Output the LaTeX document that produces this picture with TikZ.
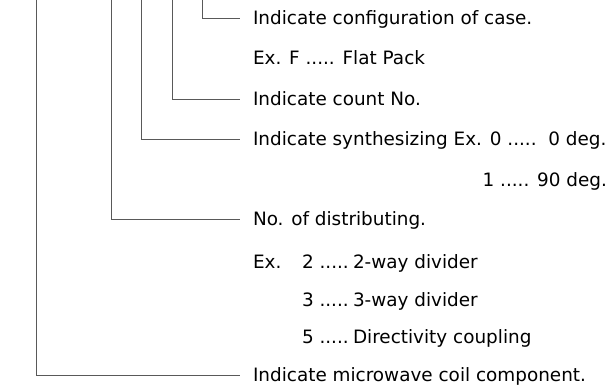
\documentclass[tikz,border=0pt]{standalone}
\usepackage{fontspec}
\setmainfont{DejaVu Sans}
\usetikzlibrary{positioning}
\tikzset{
  lbl/.style={anchor=west, inner sep=0pt, outer sep=0pt,
              font=\fontsize{18.4}{20}\selectfont, text height=13pt, text depth=0pt},
  lead/.style={draw=black!65, line width=0.6pt, shorten >=13pt}
}
\newcommand{\coderow}[3]{\makebox[49pt][l]{#1}\makebox[51pt][l]{#2 .....}#3}

\begin{document}
\begin{tikzpicture}[x=1pt, y=-1pt]
    \useasboundingbox (0,0) rectangle (616,389);
    % code fields
    \node[lbl] (cfg)   at (253,18)  {Indicate configuration of case.};
    \node[lbl] (cfgex) at (253,58)  {Ex. F ..... Flat Pack};
    \node[lbl] (cnt)   at (253,99)  {Indicate count No.};
    \node[lbl] (syn)   at (253,139) {Indicate synthesizing Ex. 0 .....\ \ 0 deg.};
    \node[lbl, anchor=east] (synex) at (607,180) {1 ..... 90 deg.};
    \node[lbl] (dist)  at (253,219) {No. of distributing.};
    \node[lbl] (dtwo)  at (253,262) {\coderow{Ex.}{2}{2-way divider}};
    \node[lbl] (dthr)  at (253,300) {\coderow{}{3}{3-way divider}};
    \node[lbl] (dfiv)  at (253,337) {\coderow{}{5}{Directivity coupling}};
    \node[lbl] (mw)    at (253,375) {Indicate microwave coil component.};
    % leaders from the top
    \coordinate (t1) at (36,0);
    \coordinate (t2) at (111,0);
    \coordinate (t3) at (141,0);
    \coordinate (t4) at (172,0);
    \coordinate (t5) at (202,0);
    \draw[lead] (t1) |- (mw.west);
    \draw[lead] (t2) |- (dist.west);
    \draw[lead] (t3) |- (syn.west);
    \draw[lead] (t4) |- (cnt.west);
    \draw[lead] (t5) |- (cfg.west);
\end{tikzpicture}
\end{document}
